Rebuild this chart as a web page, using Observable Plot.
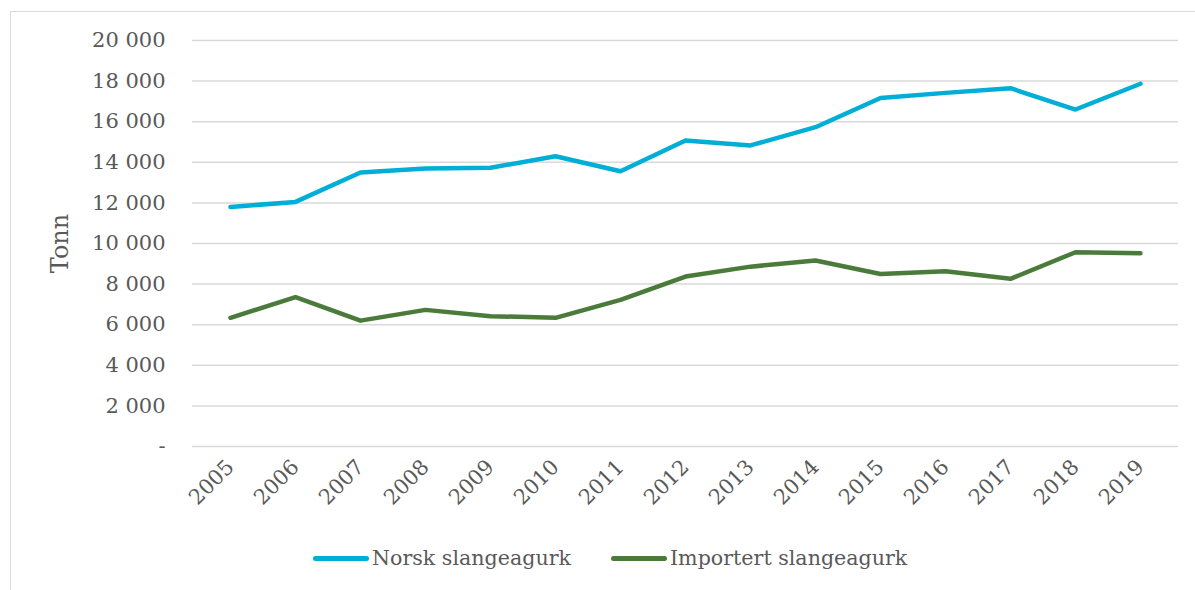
<!DOCTYPE html>
<html>
<head>
<meta charset="utf-8">
<script src="https://cdn.jsdelivr.net/npm/d3@7"></script>
<script src="https://cdn.jsdelivr.net/npm/@observablehq/plot@0.6"></script>
<style>
  html, body { margin: 0; padding: 0; background: #fff; }
  #wrap { position: relative; width: 1195px; height: 590px; overflow: hidden; }
  #frame { position: absolute; left: 10px; top: 11px; width: 1190px; height: 600px;
           border-left: 1.5px solid #d9d9d9; border-top: 1.5px solid #d9d9d9; box-sizing: border-box; }
  #chart { position: absolute; left: 0; top: 0; }
  #chart svg { font-family: "DejaVu Serif", serif; }
  #chart svg text { fill: #595959; }
  #chart svg [aria-label="y-axis label"] text { font-size: 24px; }
  #legend { position: absolute; top: 546px; left: 313px; display: flex; align-items: center;
            font-family: "DejaVu Serif", serif; font-size: 20.6px; color: #595959; }
  .item { display: flex; align-items: center; margin-right: 40px; }
  .swatch { width: 56px; height: 5px; border-radius: 3px; margin-right: 3px; }
</style>
</head>
<body>
<div id="wrap">
  <div id="frame"></div>
  <div id="chart"></div>
  <div id="legend"></div>
</div>
<script>
const years = [2005, 2006, 2007, 2008, 2009, 2010, 2011, 2012, 2013, 2014, 2015, 2016, 2017, 2018, 2019];
const norsk = [11800, 12050, 13500, 13700, 13730, 14300, 13560, 15070, 14830, 15730, 17170, 17420, 17650, 16600, 17870];
const importert = [6340, 7360, 6200, 6730, 6420, 6340, 7220, 8370, 8860, 9160, 8500, 8630, 8260, 9570, 9520];
const seriesNames = ["Norsk slangeagurk", "Importert slangeagurk"];
const seriesColors = ["#00aed6", "#4b7b3b"];
const yTicks = [0, 2000, 4000, 6000, 8000, 10000, 12000, 14000, 16000, 18000, 20000];

const rows = years.flatMap((yr, i) => [
  {year: yr, value: norsk[i], series: seriesNames[0]},
  {year: yr, value: importert[i], series: seriesNames[1]}
]);

const fmt = d => d === 0 ? "-" : d3.format(",")(d).replace(/,/g, " ");

const chart = Plot.plot({
  width: 1195,
  height: 530,
  marginTop: 40,
  marginBottom: 84,
  marginLeft: 192,
  marginRight: 17,
  style: {fontSize: "21px", fontFamily: "DejaVu Serif, serif", background: "transparent"},
  x: {type: "point", domain: years, padding: 0.5},
  y: {domain: [0, 20000]},
  color: {domain: seriesNames, range: seriesColors},
  marks: [
    Plot.gridY(yTicks, {stroke: "#d9d9d9", strokeOpacity: 1, strokeWidth: 1.5}),
    Plot.axisY({ticks: yTicks, tickSize: 0, tickPadding: 27, tickFormat: fmt,
                label: "Tonn", labelAnchor: "center", labelArrow: "none", labelOffset: 142}),
    Plot.axisX({tickSize: 0, tickRotate: -45, tickPadding: 17, tickFormat: d => String(d), label: null}),
    Plot.line(rows, {x: "year", y: "value", z: "series", stroke: "series",
                     strokeWidth: 4.5, strokeLinecap: "round", strokeLinejoin: "round"})
  ]
});
document.getElementById("chart").appendChild(chart);

const legend = document.getElementById("legend");
seriesNames.forEach((name, i) => {
  const item = document.createElement("div");
  item.className = "item";
  const sw = document.createElement("div");
  sw.className = "swatch";
  sw.style.background = seriesColors[i];
  const label = document.createElement("span");
  label.textContent = name;
  item.appendChild(sw);
  item.appendChild(label);
  legend.appendChild(item);
});
</script>
</body>
</html>
